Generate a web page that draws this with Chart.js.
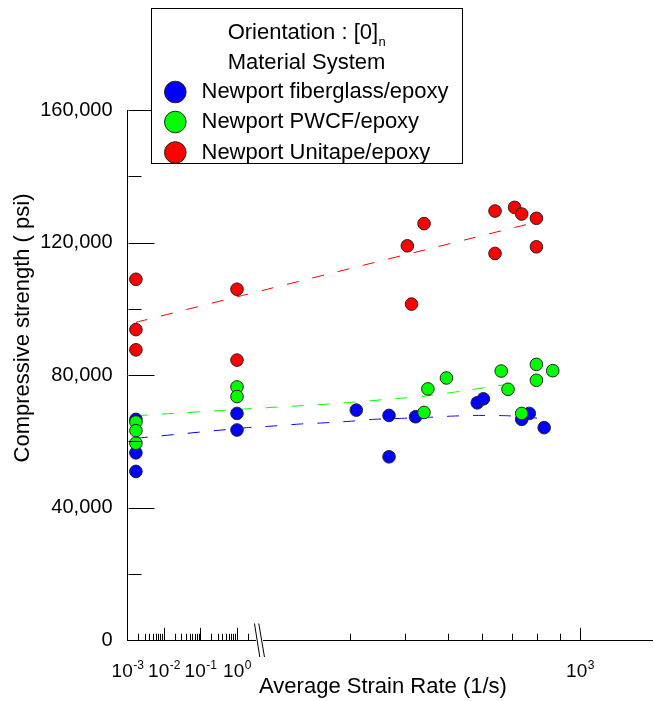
<!DOCTYPE html>
<html><head><meta charset="utf-8">
<script src="https://cdn.jsdelivr.net/npm/chart.js@4/dist/chart.umd.min.js"></script>
<style>html,body{margin:0;padding:0;background:#fff;}#wrap{width:654px;height:701px;}</style>
</head><body><div id="wrap"><canvas id="c" width="654" height="701"></canvas></div>
<script>
// ---------- data (strain rate in 1/s, compressive strength in psi) ----------
const seriesNames = ['Newport fiberglass/epoxy', 'Newport PWCF/epoxy', 'Newport Unitape/epoxy'];

const blueRate     = [0.0017, 0.0017, 0.0017, 1, 1, 310, 368, 368, 423, 584, 603, 737, 767, 829];
const blueStrength = [66600, 56500, 50900, 68400, 63400, 69400, 67800, 55300, 67400, 71600, 72800, 66600, 68400, 64100];

const greenRate     = [0.0017, 0.0017, 0.0017, 1, 1, 442, 451, 497, 662, 686, 737, 796, 796, 867];
const greenStrength = [65800, 63200, 59400, 76400, 73500, 68700, 75800, 79100, 81200, 75700, 68400, 83200, 78400, 81300];

const redRate     = [0.0017, 0.0017, 0.0017, 1, 1, 405, 414, 442, 641, 641, 710, 737, 796, 796];
const redStrength = [108900, 93700, 87600, 105900, 84500, 119000, 101400, 125700, 129500, 116700, 130600, 128600, 127300, 118700];

// trend curves
const blueFitRate = [0.0017, 1.84, 201, 231, 266, 305, 338, 390, 449, 514, 592, 682, 769, 824];
const blueFitStrength = [60900, 64100, 64600, 65200, 65600, 66100, 66600, 66900, 67200, 67600, 67800, 67700, 67200, 66800];
const greenFitRate = [0.0017, 1.43, 210, 266, 305, 384, 456, 542, 624, 723];
const greenFitStrength = [67700, 69700, 70400, 71200, 71800, 72900, 73800, 75200, 76400, 77700];
const redFitRate = [0.0017, 1, 803];
const redFitStrength = [95900, 103600, 126300];

// axis tick labels
const xLabelValues = [0.001, 0.01, 0.1, 1, 1000];
const xLabelExponents = ['-3', '-2', '-1', '0', '3'];
const yMajorTicks = [0, 40000, 80000, 120000, 160000];
const yMinorTicks = [20000, 60000, 100000, 140000];

// ---------- broken log axis (left: 10^-3..10^0.5, right: ~200..1400) ----------
const RIGHT_ORIGIN = 12.397;   // axis units at 10^3
const RIGHT_DEC = 12.05;       // axis units per decade on right part
const BREAK_AT = 3.616;
const X_MAX = 14.37;
function toAxis(r) {
  const L = Math.log10(r);
  return r <= 3.5 ? L + 3 : RIGHT_ORIGIN + (L - 3) * RIGHT_DEC;
}
function pts(rates, vals) { return rates.map((r, i) => ({ x: toAxis(r), y: vals[i] })); }

const FONT = '"Liberation Sans", Arial, Helvetica, sans-serif';
const COLORS = ['#0000ff', '#00ff00', '#ff0000'];

function pointSet(label, rates, vals, color, order) {
  return { type: 'scatter', label, data: pts(rates, vals), backgroundColor: color,
    borderColor: '#222', borderWidth: 1, pointRadius: 6.3, pointHoverRadius: 6.3, order, clip: false };
}
function fitSet(rates, vals, color) {
  return { type: 'line', data: pts(rates, vals), borderColor: color, borderWidth: 1,
    borderDash: [12, 14], pointRadius: 0, fill: false, tension: 0.2, order: 10 };
}

const axesPlugin = {
  id: 'axesDecor',
  afterDraw(chart) {
    const { ctx, chartArea: ca, scales: { x, y } } = chart;
    ctx.save();
    ctx.strokeStyle = '#000'; ctx.lineWidth = 1; ctx.fillStyle = '#000';
    const L = Math.round(ca.left) + 0.5, B = Math.round(ca.bottom) + 0.5;
    // y ticks (inward)
    yMajorTicks.forEach(v => { const p = Math.round(y.getPixelForValue(v)) + 0.5;
      ctx.beginPath(); ctx.moveTo(L, p); ctx.lineTo(L + 26, p); ctx.stroke(); });
    yMinorTicks.forEach(v => { const p = Math.round(y.getPixelForValue(v)) + 0.5;
      ctx.beginPath(); ctx.moveTo(L, p); ctx.lineTo(L + 13, p); ctx.stroke(); });
    // x ticks (inward)
    const xt = [];
    [-3, -2, -1].forEach(e => { for (let k = 2; k <= 9; k++) xt.push([k * Math.pow(10, e), 6.7]); });
    [0.01, 0.1, 1].forEach(v => xt.push([v, 12.7]));
    xt.push([2, 6.7]);
    for (let k = 3; k <= 9; k++) xt.push([k * 100, 6.7]);
    xt.push([1000, 12.7]);
    xt.forEach(([v, len]) => { const p = Math.round(x.getPixelForValue(toAxis(v))) + 0.5;
      ctx.beginPath(); ctx.moveTo(p, B); ctx.lineTo(p, B - len); ctx.stroke(); });
    // axis break
    const bx = x.getPixelForValue(BREAK_AT);
    ctx.fillStyle = '#fff'; ctx.fillRect(bx - 3.5, B - 2, 7, 4);
    ctx.beginPath(); ctx.moveTo(bx - 5, B - 17); ctx.lineTo(bx + 0.3, B + 16.5);
    ctx.moveTo(bx - 0.7, B - 17); ctx.lineTo(bx + 5, B + 16.5); ctx.stroke();
    // x tick labels with superscripts
    ctx.fillStyle = '#000'; ctx.textBaseline = 'alphabetic'; ctx.textAlign = 'left';
    xLabelValues.forEach((v, i) => {
      const p = x.getPixelForValue(toAxis(v));
      ctx.font = '19px ' + FONT; const w1 = ctx.measureText('10').width;
      ctx.font = '12px ' + FONT; const w2 = ctx.measureText(xLabelExponents[i]).width;
      const s = p - (w1 + w2) / 2;
      ctx.font = '19px ' + FONT; ctx.fillText('10', s, 676.5);
      ctx.font = '12px ' + FONT; ctx.fillText(xLabelExponents[i], s + w1 + 0.5, 668.5);
    });
    // axis titles
    ctx.font = '22px ' + FONT; ctx.textAlign = 'center';
    ctx.fillText('Average Strain Rate (1/s)', 383, 692.7);
    ctx.save(); ctx.translate(28.5, 328); ctx.rotate(-Math.PI / 2);
    ctx.fillText('Compressive strength ( psi)', 0, 0); ctx.restore();
    // legend box
    ctx.fillStyle = '#fff'; ctx.fillRect(151.5, 8.5, 311, 155);
    ctx.strokeStyle = '#000'; ctx.strokeRect(151.5, 8.5, 311, 155);
    ctx.fillStyle = '#000'; ctx.textBaseline = 'middle';
    const cx = 306.5;
    ctx.font = '22px ' + FONT; const t1 = 'Orientation : [0]'; const tw = ctx.measureText(t1).width;
    ctx.font = '13px ' + FONT; const sw = ctx.measureText('n').width;
    const sx = cx - (tw + sw) / 2;
    ctx.textAlign = 'left'; ctx.font = '22px ' + FONT; ctx.fillText(t1, sx, 33);
    ctx.font = '13px ' + FONT; ctx.fillText('n', sx + tw + 0.5, 42);
    ctx.font = '22px ' + FONT; ctx.textAlign = 'center'; ctx.fillText('Material System', cx, 63);
    ctx.textAlign = 'left';
    [92, 122, 152.5].forEach((yy, i) => {
      ctx.beginPath(); ctx.arc(175.3, yy, 10.8, 0, Math.PI * 2);
      ctx.fillStyle = COLORS[i]; ctx.fill(); ctx.strokeStyle = '#222'; ctx.stroke();
      ctx.fillStyle = '#000'; ctx.fillText(seriesNames[i], 201.5, yy);
    });
    ctx.restore();
  }
};

new Chart(document.getElementById('c'), {
  data: {
    datasets: [
      pointSet(seriesNames[2], redRate, redStrength, COLORS[2], 1),
      pointSet(seriesNames[1], greenRate, greenStrength, COLORS[1], 2),
      pointSet(seriesNames[0], blueRate, blueStrength, COLORS[0], 3),
      fitSet(redFitRate, redFitStrength, COLORS[2]),
      fitSet(greenFitRate, greenFitStrength, COLORS[1]),
      fitSet(blueFitRate, blueFitStrength, COLORS[0])
    ]
  },
  options: {
    responsive: false, devicePixelRatio: 1, animation: false,
    layout: { autoPadding: false, padding: { left: 0, right: 2, top: 110, bottom: 0 } },
    plugins: { legend: { display: false }, tooltip: { enabled: false } },
    scales: {
      x: { type: 'linear', min: 0, max: X_MAX, display: true,
        ticks: { display: false }, grid: { drawOnChartArea: false, drawTicks: false },
        border: { color: '#000', width: 1 },
        afterFit(s) { s.height = 61; } },
      y: { type: 'linear', min: 0, max: 160000, display: true,
        ticks: { stepSize: 40000, color: '#000', padding: 15, font: { size: 20, family: FONT },
          callback: v => Number(v).toLocaleString('en-US') },
        grid: { drawOnChartArea: false, drawTicks: false },
        border: { color: '#000', width: 1 },
        afterFit(s) { s.width = 127.5; } }
    }
  },
  plugins: [axesPlugin]
});
</script></body></html>
